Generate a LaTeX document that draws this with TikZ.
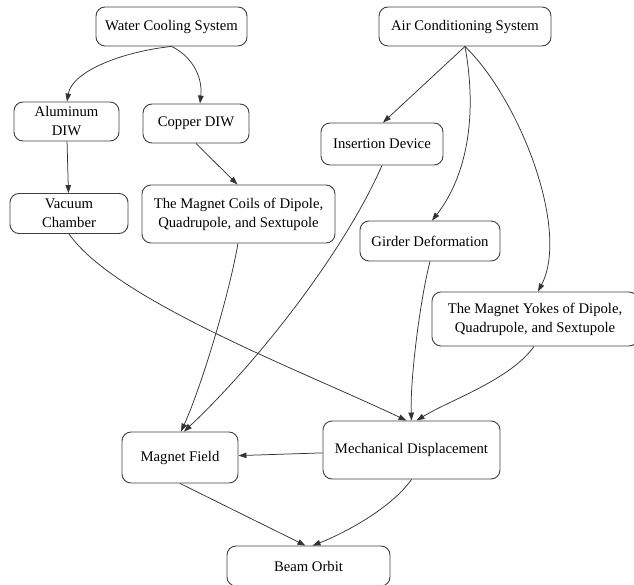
\documentclass[tikz,border=0pt]{standalone}
\usepackage{fontspec}
\setmainfont{Liberation Serif}
\newfontfamily\diagfont{Liberation Serif}
\usetikzlibrary{arrows.meta}
\tikzstyle{block} = [draw=black!75, rectangle, rounded corners=9pt, line width=0.9pt, font=\diagfont\fontsize{14.7}{19}\selectfont, align=center, inner sep=0pt]
\tikzstyle{link} = [-{Triangle[length=8pt, width=5.5pt]}, draw=black!80, line width=0.75pt]

\begin{document}
\begin{tikzpicture}[x=1pt, y=-1pt]
    \useasboundingbox (0,0) rectangle (634,585);
    \clip (0,0) rectangle (634,585);
    \node (wcs) [block, minimum width=151pt, minimum height=39pt] at (171.5,26.5) {Water Cooling System};
    \node (acs) [block, minimum width=172pt, minimum height=39pt] at (465,26.5) {Air Conditioning System};
    \node (alu) [block, minimum width=105pt, minimum height=39pt] at (66.5,121.5) {Aluminum\\DIW};
    \node (cu) [block, minimum width=106pt, minimum height=39pt] at (196,123.5) {Copper DIW};
    \node (ins) [block, minimum width=122pt, minimum height=42pt] at (382,144) {Insertion Device};
    \node (vac) [block, minimum width=118pt, minimum height=40pt] at (69,213.5) {Vacuum\\Chamber};
    \node (coils) [block, minimum width=193pt, minimum height=58pt] at (238.5,214) {The Magnet Coils of Dipole,\\Quadrupole, and Sextupole};
    \node (gird) [block, minimum width=140pt, minimum height=40pt] at (430,241) {Girder Deformation};
    \node (yokes) [block, minimum width=206pt, minimum height=54pt] at (535,319) {The Magnet Yokes of Dipole,\\Quadrupole, and Sextupole};
    \node (mf) [block, minimum width=116pt, minimum height=51pt] at (180,457.5) {Magnet Field};
    \node (md) [block, minimum width=177pt, minimum height=58pt] at (411.5,450) {Mechanical Displacement};
    \node (beam) [block, minimum width=163pt, minimum height=40pt] at (308.5,566) {Beam Orbit};

    % Arrows.
    \draw [link] (wcs.south) .. controls (120,52) and (72,72) .. ([xshift=0.5pt]alu.north);
    \draw [link] (wcs.south) .. controls (190,55) and (203,75) .. ([xshift=4pt]cu.north);
    \draw [link] (alu) -- (vac);
    \draw [link] (cu.south) -- ([xshift=-1pt]coils.north);
    \draw [link] ([xshift=-0.5pt]coils.south) .. controls (228,300) and (200,390) .. ([xshift=1pt]mf.north);
    \draw [link] (ins.south) .. controls (345,250) and (260,360) .. ([xshift=4pt]mf.north);
    \draw [link] (vac.south) .. controls (115,300) and (300,370) .. ([xshift=-5pt]md.north);
    \draw [link] (acs.south) -- ([xshift=1pt]ins.north);
    \draw [link] (acs.south) .. controls (480,130) and (460,185) .. ([xshift=2pt]gird.north);
    \draw [link] (acs.south) .. controls (520,100) and (570,230) .. ([xshift=3pt]yokes.north);
    \draw [link] (gird.south) .. controls (420,300) and (410,380) .. (md.north);
    \draw [link] ([xshift=-1pt]yokes.south) .. controls (510,380) and (450,400) .. ([xshift=5pt]md.north);
    \draw [link] (md) -- (mf);
    \draw [link] (mf.south) -- ([xshift=-3pt]beam.north);
    \draw [link] (md.south) .. controls (390,510) and (340,535) .. ([xshift=4pt]beam.north);
\end{tikzpicture}
\end{document}
